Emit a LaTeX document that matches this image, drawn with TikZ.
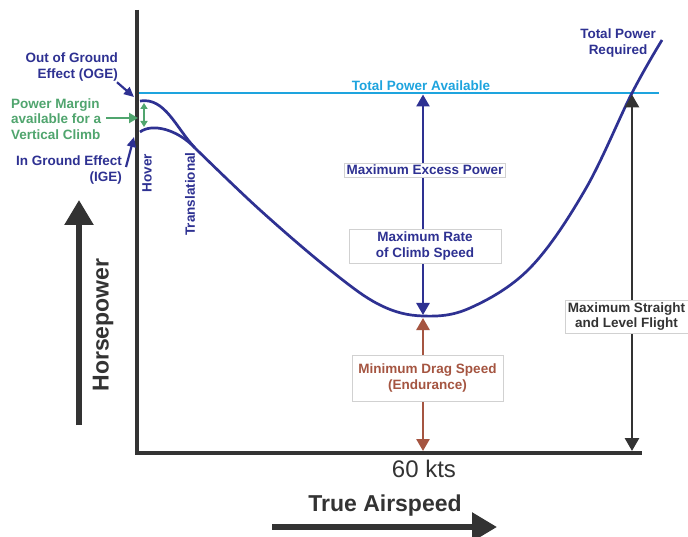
\documentclass[tikz,border=0pt]{standalone}
\usepackage{fontspec}
\setmainfont{Liberation Sans}
\usetikzlibrary{arrows.meta}
\definecolor{navy}{RGB}{46,49,146}
\definecolor{skyb}{RGB}{30,164,222}
\definecolor{grn}{RGB}{80,165,110}
\definecolor{brn}{RGB}{165,85,65}
\definecolor{axisgray}{RGB}{51,51,51}
\begin{document}
\begin{tikzpicture}[x=1pt,y=-1pt,
  lbl/.style={font=\fontsize{13.5}{15.5}\selectfont\bfseries, inner sep=0pt},
  box/.style={lbl, fill=white, draw=black!18, line width=0.6pt, inner xsep=2pt, inner ysep=2pt, align=center},
  curve/.style={navy, line width=2.7pt},
  bigtxt/.style={font=\fontsize{23}{23}\selectfont\bfseries, text=axisgray, inner sep=0pt}]
\useasboundingbox (0,0) rectangle (688,537);
\fill[white] (0,0) rectangle (688,537);

% named points
\coordinate (otop) at (137,10);
\coordinate (origin) at (137,453);
\coordinate (xend) at (642,453);
\coordinate (tpaL) at (139,93);
\coordinate (tpaR) at (659,93);
\coordinate (exTop) at (423,94.5);
\coordinate (exBot) at (423,315);
\coordinate (mdTop) at (423,318);
\coordinate (mdBot) at (423,451);
\coordinate (mslTop) at (632,94.5);
\coordinate (mslBot) at (632,451);
\coordinate (hpBot) at (79,425);
\coordinate (hpTop) at (79,200);
\coordinate (taL) at (272,527);
\coordinate (taR) at (497,527);
\coordinate (ogeStart) at (140,101);
\coordinate (igeStart) at (140,132);
\coordinate (merge) at (195,148);
\coordinate (ogeTip) at (134,97);
\coordinate (igeTip) at (134,137);
\coordinate (pmTop) at (144,103);
\coordinate (pmBot) at (144,127);
\coordinate (pmTip) at (138,118);

% axes
\draw[axisgray, line width=4pt, line join=miter] (otop) -- (origin) -- (xend);

% total power available
\draw[skyb, line width=2.6pt] (tpaL) -- (tpaR);
\node[lbl, text=skyb] (tpa) at (421,86) {Total Power Available};

% power required curves
\draw[curve] (ogeStart) .. controls (165,97) and (176,128) .. (merge);
\draw[curve] (igeStart) .. controls (152,123) and (177,129) .. (merge);
\draw[curve] plot[smooth, tension=0.6] coordinates {(195,148) (260,210) (330,270) (380,305) (423,316) (470,308) (530,268) (585,190) (632,93) (662,40)};
\node[lbl, text=navy, align=center] (tpr) at (618,43) {Total Power\\Required};

% vertical arrows
\draw[navy, line width=2.6pt, {Triangle[width=13pt,length=12pt]}-{Triangle[width=13pt,length=12pt]}] (exTop) -- (exBot);
\draw[brn, line width=2.6pt, {Triangle[width=13pt,length=12pt]}-{Triangle[width=13pt,length=12pt]}] (mdTop) -- (mdBot);
\draw[axisgray, line width=2.8pt, {Triangle[width=14pt,length=13pt]}-{Triangle[width=14pt,length=13pt]}] (mslTop) -- (mslBot);

\node[box, text=navy, minimum width=160pt] (mep) at (425,170) {Maximum Excess Power};
\node[box, text=navy, minimum width=152pt, minimum height=34pt] (mrc) at (425,246) {Maximum Rate\\of Climb Speed};
\node[box, text=brn, minimum width=151pt, minimum height=46pt] (mds) at (427.5,378) {Minimum Drag Speed\\(Endurance)};
\node[box, text=axisgray, minimum width=123pt, minimum height=33pt] (msl) at (626.5,316.5) {Maximum Straight\\and Level Flight};

% left labels
\node[lbl, text=navy, align=right, anchor=east] (oge) at (118,67) {Out of Ground\\Effect (OGE)};
\draw[navy, line width=2.2pt, -{Triangle[width=9pt,length=10pt]}] (oge.south east) ++(-1,1) coordinate (ogeFrom) (ogeFrom) -- (ogeTip);
\node[lbl, text=grn, align=left, anchor=west] (pm) at (11,119) {Power Margin\\available for a\\Vertical Climb};
\draw[grn, line width=2.6pt, -{Triangle[width=10pt,length=9pt]}] (pm.east |- pmTip) ++(5,0) -- (pmTip);
\draw[grn, line width=1.6pt, {Triangle[width=7pt,length=6pt]}-{Triangle[width=7pt,length=6pt]}] (pmTop) -- (pmBot);
\node[lbl, text=navy, align=right, anchor=east] (ige) at (122,170) {In Ground Effect\\(IGE)};
\draw[navy, line width=2.2pt, -{Triangle[width=9pt,length=10pt]}] (126,167) coordinate (igeFrom) -- (igeTip);

\node[lbl, text=navy, rotate=90] (hover) at (147,173) {Hover};
\node[lbl, text=navy, rotate=90] (trans) at (190,194) {Translational};

% axis titles
\draw[axisgray, line width=5.5pt, -{Triangle[width=28pt,length=25pt]}] (hpBot) -- (hpTop);
\node[bigtxt, rotate=90] (hp) at (103,325) {Horsepower};
\draw[axisgray, line width=5.5pt, -{Triangle[width=28pt,length=25pt]}] (taL) -- (taR);
\node[bigtxt] (tas) at (385,506) {True Airspeed};
\node[font=\fontsize{24}{24}\selectfont, text=axisgray, inner sep=0pt] (kts) at (424,469) {60 kts};
\end{tikzpicture}
\end{document}
